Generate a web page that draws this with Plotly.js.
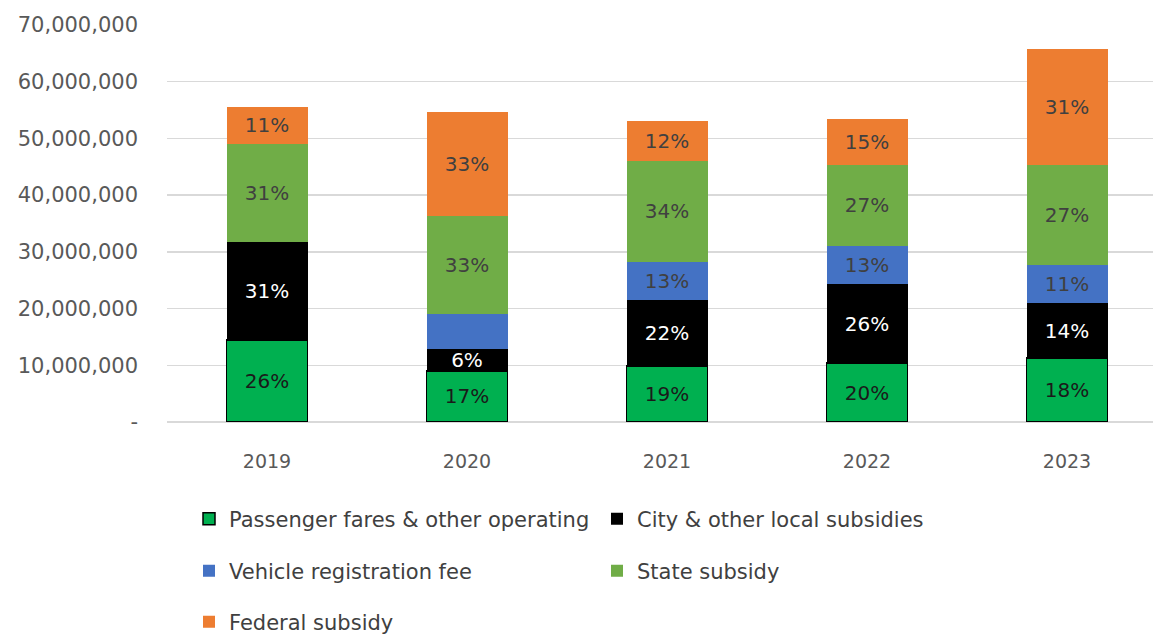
<!DOCTYPE html>
<html>
<head>
<meta charset="utf-8">
<script src="https://cdn.plot.ly/plotly-3.0.1.min.js"></script>
<style>html,body{margin:0;padding:0;background:#fff;}#chart{width:1153px;height:636px;}</style>
</head>
<body>
<div id="chart"></div>
<script>
const years = ['2019', '2020', '2021', '2022', '2023'];
const fares = [14500000, 9000000, 9900000, 10400000, 11300000];
const city = [17200000, 3900000, 11700000, 13900000, 9600000];
const vehicleFee = [0, 6100000, 6550000, 6800000, 6700000];
const stateSub = [17300000, 17400000, 17950000, 14300000, 17800000];
const federal = [6600000, 18200000, 6900000, 8100000, 20300000];

const faresLabels = ['26%', '17%', '19%', '20%', '18%'];
const cityLabels = ['31%', '6%', '22%', '26%', '14%'];
const vehicleLabels = ['', '', '13%', '13%', '11%'];
const stateLabels = ['31%', '33%', '34%', '27%', '27%'];
const federalLabels = ['11%', '33%', '12%', '15%', '31%'];

const yTickVals = [0, 10000000, 20000000, 30000000, 40000000, 50000000, 60000000, 70000000];
const yTickText = ['-', '10,000,000', '20,000,000', '30,000,000', '40,000,000', '50,000,000', '60,000,000', '70,000,000'];

const FONT = 'DejaVu Sans, sans-serif';

function mk(name, y, labels, color, textColor, legend, outline) {
  return {
    type: 'bar', name: name, x: years, y: y,
    text: labels, textposition: 'inside', insidetextanchor: 'middle',
    textangle: 0, constraintext: 'none', cliponaxis: false,
    textfont: {family: FONT, size: 20, color: textColor},
    marker: {color: color, line: {color: outline ? '#000000' : color, width: outline ? 1.5 : 0}},
    legend: legend, hoverinfo: 'skip'
  };
}

const traces = [
  mk('Passenger fares & other operating', fares, faresLabels, '#00B050', '#1a1a1a', 'legend', true),
  mk('City & other local subsidies', city, cityLabels, '#000000', '#ffffff', 'legend', false),
  mk('Vehicle registration fee', vehicleFee, vehicleLabels, '#4472C4', '#404040', 'legend2', false),
  mk('State subsidy', stateSub, stateLabels, '#70AD47', '#404040', 'legend2', false),
  mk('Federal subsidy', federal, federalLabels, '#ED7D31', '#404040', 'legend3', false)
];

function leg(yc) {
  return {
    orientation: 'h', xref: 'container', yref: 'container',
    x: 189 / 1153, y: yc, xanchor: 'left', yanchor: 'middle',
    entrywidth: 363, entrywidthmode: 'pixels', traceorder: 'normal',
    font: {family: FONT, size: 21, color: '#404040'},
    bgcolor: 'rgba(0,0,0,0)', itemclick: false, itemdoubleclick: false
  };
}

const layout = {
  width: 1153, height: 636,
  margin: {l: 167, r: 0, t: 25, b: 214, pad: 0},
  paper_bgcolor: '#ffffff', plot_bgcolor: '#ffffff',
  barmode: 'stack', bargap: 0.595,
  showlegend: true,
  legend: leg(1 - 519 / 636),
  legend2: leg(1 - 571 / 636),
  legend3: leg(1 - 622 / 636),
  xaxis: {
    type: 'category', range: [-0.5, 4.43],
    showgrid: false, showline: false, zeroline: false, ticks: '',
    tickfont: {family: FONT, size: 19, color: '#595959'},
    ticklabelstandoff: 26
  },
  yaxis: {
    range: [0, 70000000], tickvals: yTickVals, ticktext: yTickText,
    showgrid: true, gridcolor: '#d9d9d9', gridwidth: 1.5,
    zeroline: true, zerolinecolor: '#d9d9d9', zerolinewidth: 1.5,
    showline: false, ticks: '',
    tickfont: {family: FONT, size: 21, color: '#595959'},
    ticklabelstandoff: 28
  }
};

Plotly.newPlot('chart', traces, layout, {displayModeBar: false, staticPlot: true});
</script>
</body>
</html>
